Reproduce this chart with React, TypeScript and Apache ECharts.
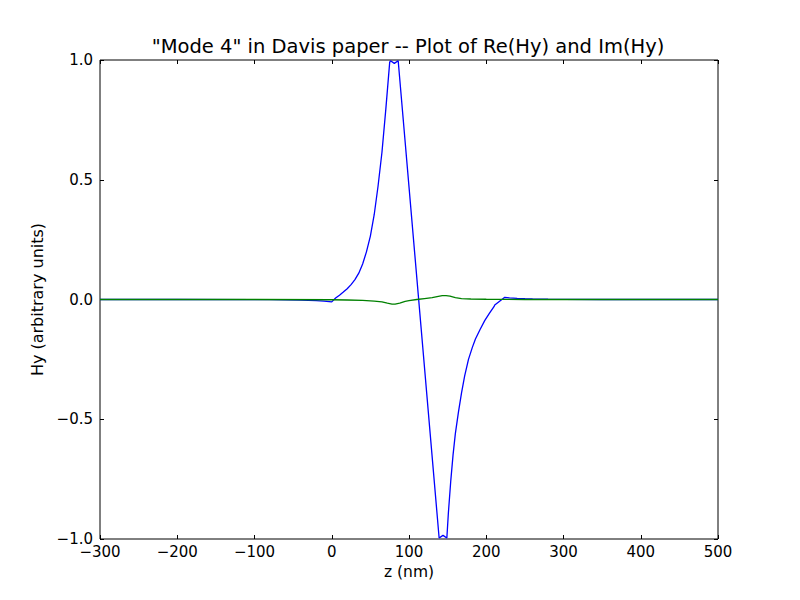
import React, { useEffect, useRef } from "react";
import * as echarts from "echarts";

const TITLE = "\"Mode 4\" in Davis paper -- Plot of Re(Hy) and Im(Hy)";
const X_LABEL = "z (nm)";
const Y_LABEL = "Hy (arbitrary units)";

// Re(Hy): z (nm) and value
const reZ = [-300, -200, -100, -80, -60, -40, -20, -10, 0, 5, 10, 15, 20, 25, 30, 35, 40, 45, 50, 55, 60, 65, 70, 75, 76, 81, 86, 139, 144, 149, 151, 154, 157, 160, 164, 168, 172, 177, 182, 186, 192, 198, 204, 210, 211, 224, 230, 240, 250, 260, 280, 300, 350, 400, 500];
const reV = [0, 0, -0.0003, -0.0006, -0.001, -0.002, -0.005, -0.007, -0.01, 0.006, 0.018, 0.031, 0.045, 0.062, 0.083, 0.11, 0.148, 0.2, 0.265, 0.355, 0.475, 0.615, 0.795, 0.99, 0.997, 0.986, 0.997, -0.996, -0.985, -0.996, -0.89, -0.76, -0.65, -0.56, -0.47, -0.39, -0.32, -0.25, -0.2, -0.165, -0.125, -0.088, -0.058, -0.03, -0.023, 0.009, 0.007, 0.005, 0.0035, 0.0025, 0.001, 0.0005, 0.0001, 0, 0];

// Im(Hy): z (nm) and value
const imZ = [-300, -100, 0, 20, 40, 55, 65, 72, 78, 82, 88, 95, 100, 110, 120, 130, 138, 143, 148, 153, 160, 168, 180, 200, 220, 250, 500];
const imV = [0, 0, -0.001, -0.002, -0.004, -0.007, -0.01, -0.015, -0.019, -0.019, -0.015, -0.008, -0.005, 0, 0.004, 0.008, 0.013, 0.016, 0.016, 0.014, 0.008, 0.004, 0.002, 0.001, 0.0005, 0, 0];

const X_MIN = -300;
const X_MAX = 500;
const X_STEP = 100;
const Y_MIN = -1;
const Y_MAX = 1;
const Y_STEP = 0.5;

const FONT = "DejaVu Sans";
const minus = (s: string) => s.replace("-", "\u2212");

export default function App() {
  const ref = useRef<HTMLDivElement>(null);
  useEffect(() => {
    if (!ref.current) return;
    const chart = echarts.init(ref.current, null, { renderer: "svg" });
    const tickStyle = { show: true, inside: true, length: 4, lineStyle: { color: "#000", width: 1 } };
    const hiddenLine = { show: false, onZero: false };
    chart.setOption({
      animation: false,
      backgroundColor: "#fff",
      grid: { left: 100, top: 60, width: 618, height: 479, show: true, borderColor: "#000", borderWidth: 1, backgroundColor: "transparent" },
      graphic: [
        {
          type: "text",
          x: 408,
          y: 46,
          style: { text: TITLE, font: `19.5px '${FONT}'`, fill: "#000", textAlign: "center", textVerticalAlign: "middle" },
        },
      ],
      xAxis: [
        {
          type: "value", min: X_MIN, max: X_MAX, interval: X_STEP, position: "bottom",
          axisLine: hiddenLine, splitLine: { show: false }, axisTick: tickStyle,
          axisLabel: { fontFamily: FONT, fontSize: 15, color: "#000", margin: 5, formatter: (v: number) => minus(String(v)) },
          name: X_LABEL, nameLocation: "middle", nameGap: 25,
          nameTextStyle: { fontFamily: FONT, fontSize: 15.5, color: "#000" },
        },
        {
          type: "value", min: X_MIN, max: X_MAX, interval: X_STEP, position: "top",
          axisLine: hiddenLine, splitLine: { show: false }, axisTick: tickStyle, axisLabel: { show: false },
        },
      ],
      yAxis: [
        {
          type: "value", min: Y_MIN, max: Y_MAX, interval: Y_STEP, position: "left",
          axisLine: hiddenLine, splitLine: { show: false }, axisTick: tickStyle,
          axisLabel: { fontFamily: FONT, fontSize: 15, color: "#000", margin: 7, formatter: (v: number) => minus(v.toFixed(1)) },
          name: Y_LABEL, nameLocation: "middle", nameGap: 50,
          nameTextStyle: { fontFamily: FONT, fontSize: 16, color: "#000" },
        },
        {
          type: "value", min: Y_MIN, max: Y_MAX, interval: Y_STEP, position: "right",
          axisLine: hiddenLine, splitLine: { show: false }, axisTick: tickStyle, axisLabel: { show: false },
        },
      ],
      series: [
        {
          name: "Re(Hy)", type: "line", xAxisIndex: 0, yAxisIndex: 0, showSymbol: false, symbol: "none",
          data: reZ.map((z, i) => [z, reV[i]]),
          lineStyle: { color: "#0000ff", width: 1.3 }, clip: true, z: 3,
        },
        {
          name: "Im(Hy)", type: "line", xAxisIndex: 0, yAxisIndex: 0, showSymbol: false, symbol: "none",
          data: imZ.map((z, i) => [z, imV[i]]),
          lineStyle: { color: "#008000", width: 1.3 }, clip: true, z: 4,
        },
      ],
    });
    return () => chart.dispose();
  }, []);
  return <div ref={ref} style={{ position: "fixed", left: 0, top: 0, width: 800, height: 600 }} />;
}
